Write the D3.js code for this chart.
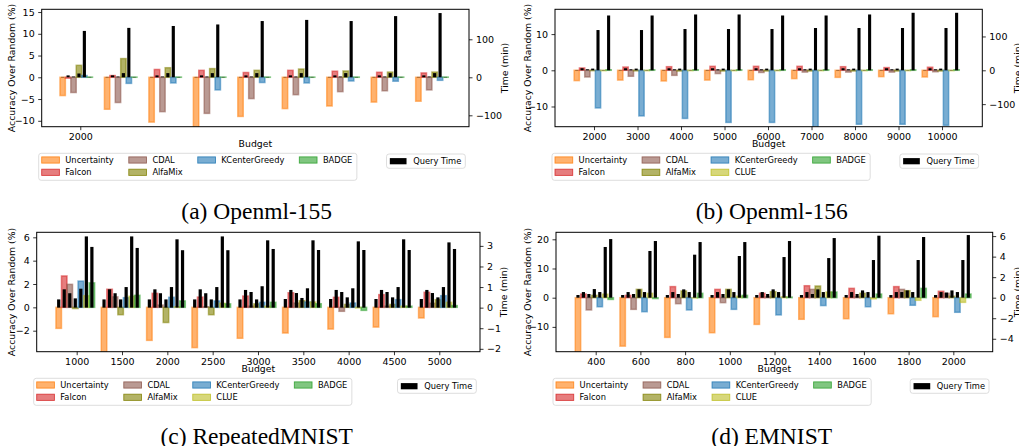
<!DOCTYPE html>
<html>
<head>
<meta charset="utf-8">
<script src="https://cdnjs.cloudflare.com/ajax/libs/d3/7.8.5/d3.min.js"></script>
<style>
  body { margin: 0; background: #fff; }
  svg { display: block; }
</style>
</head>
<body>
<div class="chart"></div>
<script>
// method names, in legend order
var methods6 = ["Uncertainty", "Falcon", "CDAL", "AlfaMix", "KCenterGreedy", "BADGE"];
var methods7 = ["Uncertainty", "Falcon", "CDAL", "AlfaMix", "KCenterGreedy", "CLUE", "BADGE"];

// (a) Openml-155 : accuracy over random (%) and query time (min), one row per method
var labels155 = ["2000"];
var acc155 = [
  [-4.2, -7.35, -10.3, -11.6, -9.0, -7.2, -6.6, -5.7, -5.5],
  [-0.2, 0.4, 1.8, 1.6, 1.1, 1.6, 1.4, 1.15, 1.0],
  [-3.5, -5.8, -7.9, -8.3, -4.9, -4.0, -3.3, -3.1, -2.9],
  [2.75, 4.3, 2.2, 2.0, 1.6, 1.9, 1.45, 1.2, 1.2],
  [0.4, -1.4, -1.3, -2.9, -1.2, -1.3, -0.85, -0.9, -0.7],
  [0.05, 0.05, 0.05, 0.05, 0.05, 0.05, 0.05, 0.05, 0.05]
];
var time155 = [
  [1, 1, 1, 1, 1, 1, 1, 1, 1],
  [5, 5, 5, 5, 5, 5, 5, 5, 5],
  [2, 2, 2, 2, 2, 2, 2, 2, 2],
  [10, 11, 11, 11, 11, 11, 11, 11, 11],
  [122, 130, 135, 139, 148, 151, 148, 161, 169],
  [1, 1, 1, 1, 1, 1, 1, 1, 1]
];

// (b) Openml-156
var labels156 = ["2000", "3000", "4000", "5000", "6000", "7000", "8000", "9000", "10000"];
var acc156 = [
  [-2.85, -2.7, -2.95, -2.7, -2.6, -2.3, -1.95, -1.75, -1.85],
  [0.65, 0.9, 1.0, 1.1, 1.1, 1.1, 1.0, 0.75, 0.85],
  [-1.85, -1.65, -1.4, -0.9, -0.6, -0.5, -0.5, -0.5, -0.4],
  [-0.1, -0.15, -0.2, -0.2, -0.2, -0.2, -0.2, -0.2, -0.2],
  [-10.4, -12.6, -13.3, -14.4, -14.4, -16.0, -14.9, -14.9, -15.2],
  [-0.1, -0.1, -0.1, -0.1, -0.1, -0.1, -0.1, -0.1, -0.1],
  [0.15, 0.15, 0.15, 0.15, 0.15, 0.15, 0.15, 0.15, 0.15]
];
var time156 = [
  [1, 1, 1, 1, 1, 1, 1, 1, 1],
  [6, 6, 6, 6, 6, 6, 6, 6, 6],
  [3, 3, 3, 3, 3, 3, 3, 3, 3],
  [5, 5, 5, 5, 5, 5, 5, 5, 5],
  [119, 119, 122, 122, 122, 125, 125, 125, 125],
  [1, 1, 1, 1, 1, 1, 1, 1, 1],
  [162, 162, 165, 165, 162, 162, 165, 170, 170]
];

// (c) RepeatedMNIST
var labelsRM = ["1000", "1500", "2000", "2500", "3000", "3500", "4000", "4500", "5000"];
var accRM = [
  [-1.8, -4.2, -2.83, -3.45, -2.65, -2.2, -1.86, -1.69, -0.91],
  [2.69, 1.55, 1.2, 0.88, 0.97, 1.25, 0.86, 1.09, 1.29],
  [1.97, 0.9, 0.2, 0.05, 0.1, 0.37, -0.34, 0.1, 0.35],
  [-0.1, -0.63, -1.3, -0.63, 0.3, 0.57, 0.25, 0.25, 0.66],
  [2.25, 0.83, 0.86, 0.55, 0.43, 0.46, 0.37, 0.66, 1.0],
  [1.0, 0.95, 0.05, 0.35, 0.1, 0.46, -0.05, 0.1, 0.43],
  [2.1, 1.03, 0.55, 0.3, 0.43, 0.31, -0.26, 0.1, 0.15]
];
var timeRM = [
  [0.4, 0.4, 0.4, 0.4, 0.4, 0.42, 0.42, 0.42, 0.42],
  [0.89, 0.89, 0.89, 0.89, 0.86, 0.86, 0.86, 0.86, 0.86],
  [0.7, 0.7, 0.7, 0.7, 0.76, 0.71, 0.76, 0.76, 0.71],
  [0.45, 0.4, 0.4, 0.4, 0.4, 0.47, 0.5, 0.5, 0.5],
  [0.92, 1.0, 1.0, 1.0, 1.04, 0.94, 0.94, 1.0, 1.0],
  [3.46, 3.46, 3.32, 3.46, 3.27, 3.27, 3.22, 3.32, 3.17],
  [2.95, 2.9, 2.79, 2.79, 2.85, 2.8, 2.8, 2.8, 2.85]
];

// (d) EMNIST
var labelsEM = ["400", "600", "800", "1000", "1200", "1400", "1600", "1800", "2000"];
var accEM = [
  [-19, -16.6, -13.6, -12.0, -9.15, -7.4, -7.2, -5.5, -6.5],
  [1.25, 0.8, 3.8, 2.85, 1.5, 4.1, 3.2, 3.8, 2.2],
  [-4.2, -4.0, -2.05, -1.7, 0.3, 2.85, 0.3, 2.85, 1.5],
  [0.8, 2.85, 2.3, 2.85, 2.05, 4.0, 1.5, 2.4, 0.5],
  [-3.1, -4.8, -4.2, -4.0, -5.9, -2.7, -3.1, -2.6, -5.0],
  [1.2, 1.5, -0.1, 0.5, 0.3, 1.95, -0.4, -0.9, -1.6],
  [-0.6, -0.3, 1.5, 0.8, 0.2, 1.95, 1.25, 3.2, 1.25]
];
var timeEM = [
  [0.26, 0.26, 0.26, 0.26, 0.26, 0.26, 0.26, 0.26, 0.26],
  [0.55, 0.55, 0.55, 0.55, 0.55, 0.55, 0.55, 0.55, 0.55],
  [0.36, 0.36, 0.36, 0.36, 0.36, 0.36, 0.36, 0.55, 0.5],
  [0.84, 0.81, 0.81, 0.81, 0.81, 0.81, 0.71, 0.71, 0.71],
  [0.55, 0.55, 0.55, 0.55, 0.55, 0.55, 0.55, 0.55, 0.55],
  [4.94, 4.55, 4.19, 4.06, 3.96, 3.86, 3.67, 3.67, 3.67],
  [5.71, 5.52, 5.42, 5.42, 5.52, 5.81, 6.04, 5.91, 6.1]
];

var colors = {
  "Uncertainty": "#ff7f0e",
  "Falcon": "#d62728",
  "CDAL": "#8c564b",
  "AlfaMix": "#808000",
  "KCenterGreedy": "#1f77b4",
  "CLUE": "#bcbd22",
  "BADGE": "#2ca02c"
};

var W = 1019, H = 446,
    barW = 0.122,        // bar width in group units
    font = "DejaVu Sans",
    tickFont = 9.5,
    labFont = 9.3,
    legFont = 8.3;

// layout of the four panels (axes box = left, top, right, bottom)
var panels = [
  {methods: methods6, acc: acc155, time: time155, labels: labels155, caption: "(a) Openml-155",
   box: [41.7, 9.3, 469, 126.7], pad: [0.868, 0.742], yL: [-11.36, 15.63], yR: [-130, 178.9],
   ticksL: [-10, -5, 0, 5, 10, 15], ticksR: [-100, 0, 100], ylabX: 14.5, y2labX: 508, capX: 256.7},
  {methods: methods7, acc: acc156, time: time156, labels: labels156, caption: "(b) Openml-156",
   box: [555, 9.3, 982.3, 126.7], pad: [0.897, 0.926], yL: [-15.58, 16.85], yR: [-166.7, 180.3],
   ticksL: [-10, 0, 10], ticksR: [-100, 0, 100], ylabX: 530.5, y2labX: 1020.8, capX: 771.7},
  {methods: methods7, acc: accRM, time: timeRM, labels: labelsRM, caption: "(c) RepeatedMNIST",
   box: [36.7, 232.3, 480, 351.7], pad: [0.882, 0.898], yL: [-3.8, 6.43], yR: [-2.14, 3.66],
   ticksL: [-2, 0, 2, 4, 6], ticksR: [-2, -1, 0, 1, 2, 3], ylabX: 14.5, y2labX: 507, capX: 256.7},
  {methods: methods7, acc: accEM, time: timeEM, labels: labelsEM, caption: "(d) EMNIST",
   box: [556, 232.3, 992.7, 351.7], pad: [0.888, 0.881], yL: [-18.5, 22.4], yR: [-5.26, 6.37],
   ticksL: [-10, 0, 10, 20], ticksR: [-4, -2, 0, 2, 4, 6], ylabX: 530.5, y2labX: 1020.5, capX: 771.7}
];

var svg = d3.select(".chart").append("svg")
    .attr("width", W)
    .attr("height", H)
    .style("background", "#fff");

function styleAxis(sel) {
  sel.attr("font-family", font).attr("font-size", tickFont);
  sel.select(".domain").remove();
  sel.selectAll(".tick line").attr("stroke", "#000").attr("stroke-width", 0.8);
  sel.selectAll(".tick text").attr("fill", "#000");
}

function drawPanel(p, idx) {
  var left = p.box[0], top = p.box[1], right = p.box[2], bottom = p.box[3];
  var n = p.acc[0].length;

  var x = d3.scaleLinear().domain([-p.pad[0], n - 1 + p.pad[1]]).range([left, right]);
  var yL = d3.scaleLinear().domain(p.yL).range([bottom, top]);
  var yR = d3.scaleLinear().domain(p.yR).range([bottom, top]);
  var bw = x(barW) - x(0);

  var g = svg.append("g");

  g.append("clipPath").attr("id", "clip" + idx)
    .append("rect")
    .attr("x", left).attr("y", top)
    .attr("width", right - left).attr("height", bottom - top);

  var plot = g.append("g").attr("clip-path", "url(#clip" + idx + ")");

  // accuracy bars
  p.methods.forEach(function(m, i) {
    var off = (i - 3.25) * bw;
    plot.append("g").selectAll("rect")
      .data(p.acc[i])
      .enter().append("rect")
      .attr("x", function(v, j) { return x(j) + off - bw / 2; })
      .attr("y", function(v) { return yL(Math.max(0, v)); })
      .attr("width", bw)
      .attr("height", function(v) { return Math.abs(yL(v) - yL(0)); })
      .attr("fill", colors[m])
      .attr("fill-opacity", 0.6)
      .attr("stroke", colors[m])
      .attr("stroke-opacity", 0.55)
      .attr("stroke-width", 1.5);
  });

  // query time bars (right axis)
  var tw = bw * 0.58;
  p.methods.forEach(function(m, i) {
    var off = (i - 3.25) * bw;
    plot.append("g").selectAll("rect")
      .data(p.time[i])
      .enter().append("rect")
      .attr("x", function(v, j) { return x(j) + off - tw / 2; })
      .attr("y", function(v) { return yR(Math.max(0, v)); })
      .attr("width", tw)
      .attr("height", function(v) { return Math.abs(yR(v) - yR(0)); })
      .attr("fill", "#000");
  });

  // frame
  g.append("rect")
    .attr("x", left).attr("y", top)
    .attr("width", right - left).attr("height", bottom - top)
    .attr("fill", "none")
    .attr("stroke", "#000")
    .attr("stroke-width", 1);

  // axes
  g.append("g")
    .attr("transform", "translate(" + left + ",0)")
    .call(d3.axisLeft(yL).tickValues(p.ticksL).tickFormat(d3.format("d")).tickSize(3.5).tickPadding(3.5))
    .call(styleAxis);

  g.append("g")
    .attr("transform", "translate(" + right + ",0)")
    .call(d3.axisRight(yR).tickValues(p.ticksR).tickFormat(d3.format("d")).tickSize(3.5).tickPadding(3.5))
    .call(styleAxis);

  g.append("g")
    .attr("transform", "translate(0," + bottom + ")")
    .call(d3.axisBottom(x).tickValues(d3.range(p.labels.length))
      .tickFormat(function(i) { return p.labels[i]; }).tickSize(3.5).tickPadding(3.5))
    .call(styleAxis);

  // axis titles
  g.append("text")
    .attr("transform", "translate(" + p.ylabX + "," + (top + bottom) / 2 + ") rotate(-90)")
    .attr("text-anchor", "middle")
    .attr("font-family", font).attr("font-size", labFont)
    .text("Accuracy Over Random (%)");

  g.append("text")
    .attr("transform", "translate(" + p.y2labX + "," + (top + bottom) / 2 + ") rotate(-90)")
    .attr("text-anchor", "middle")
    .attr("font-family", font).attr("font-size", labFont)
    .text("Time (min)");

  g.append("text")
    .attr("x", (left + right) / 2)
    .attr("y", bottom + 20.5)
    .attr("text-anchor", "middle")
    .attr("font-family", font).attr("font-size", labFont)
    .text("Budget");

  drawLegend(g, p, left - 3, bottom + 26.6);
  drawQueryLegend(g, right - 3.7, bottom + 27.3);

  // caption
  g.append("text")
    .attr("x", p.capX)
    .attr("y", bottom + 92.5)
    .attr("text-anchor", "middle")
    .attr("font-family", "Liberation Serif, Times New Roman, serif")
    .attr("font-size", 23.5)
    .text(p.caption);
}

function drawLegend(g, p, bx, by) {
  var ncol = 4,
      n = p.methods.length,
      base = Math.floor(n / ncol),
      extra = n % ncol,
      cols = [],
      k = 0;
  for (var c = 0; c < ncol; c++) {
    var cnt = base + (c < extra ? 1 : 0);
    cols.push(p.methods.slice(k, k + cnt));
    k += cnt;
  }

  var box = g.append("rect")
    .attr("x", bx).attr("y", by)
    .attr("height", 27)
    .attr("rx", 2.5)
    .attr("fill", "#fff")
    .attr("stroke", "#d4d4d4")
    .attr("stroke-width", 0.8);

  var px = bx + 3, textEnd = px;
  cols.forEach(function(col) {
    var maxW = 0;
    col.forEach(function(m, r) {
      var cy = by + 6.7 + r * 12.3;
      g.append("rect")
        .attr("x", px).attr("y", cy - 3.1)
        .attr("width", 17.7).attr("height", 6.2)
        .attr("fill", colors[m]).attr("fill-opacity", 0.6)
        .attr("stroke", colors[m]).attr("stroke-opacity", 0.85)
        .attr("stroke-width", 0.9);
      var t = g.append("text")
        .attr("x", px + 23.6).attr("y", cy + 3)
        .attr("font-family", font).attr("font-size", legFont)
        .text(m);
      maxW = Math.max(maxW, t.node().getComputedTextLength());
    });
    textEnd = px + 23.6 + maxW;
    px = textEnd + 15;
  });
  box.attr("width", textEnd + 4.5 - bx);
}

function drawQueryLegend(g, rx, by) {
  var box = g.append("rect")
    .attr("y", by)
    .attr("height", 14.3)
    .attr("rx", 2.5)
    .attr("fill", "#fff")
    .attr("stroke", "#d4d4d4")
    .attr("stroke-width", 0.8);
  var patch = g.append("rect")
    .attr("y", by + 7.2 - 3.1)
    .attr("width", 16.7).attr("height", 6.2)
    .attr("fill", "#000");
  var t = g.append("text")
    .attr("y", by + 7.2 + 3)
    .attr("font-family", font).attr("font-size", legFont)
    .text("Query Time");
  var tw = t.node().getComputedTextLength();
  var bw = 3.3 + 16.7 + 6.6 + tw + 4;
  var bx = rx - bw;
  box.attr("x", bx).attr("width", bw);
  patch.attr("x", bx + 3.3);
  t.attr("x", bx + 3.3 + 16.7 + 6.6);
}

panels.forEach(drawPanel);
</script>
</body>
</html>
